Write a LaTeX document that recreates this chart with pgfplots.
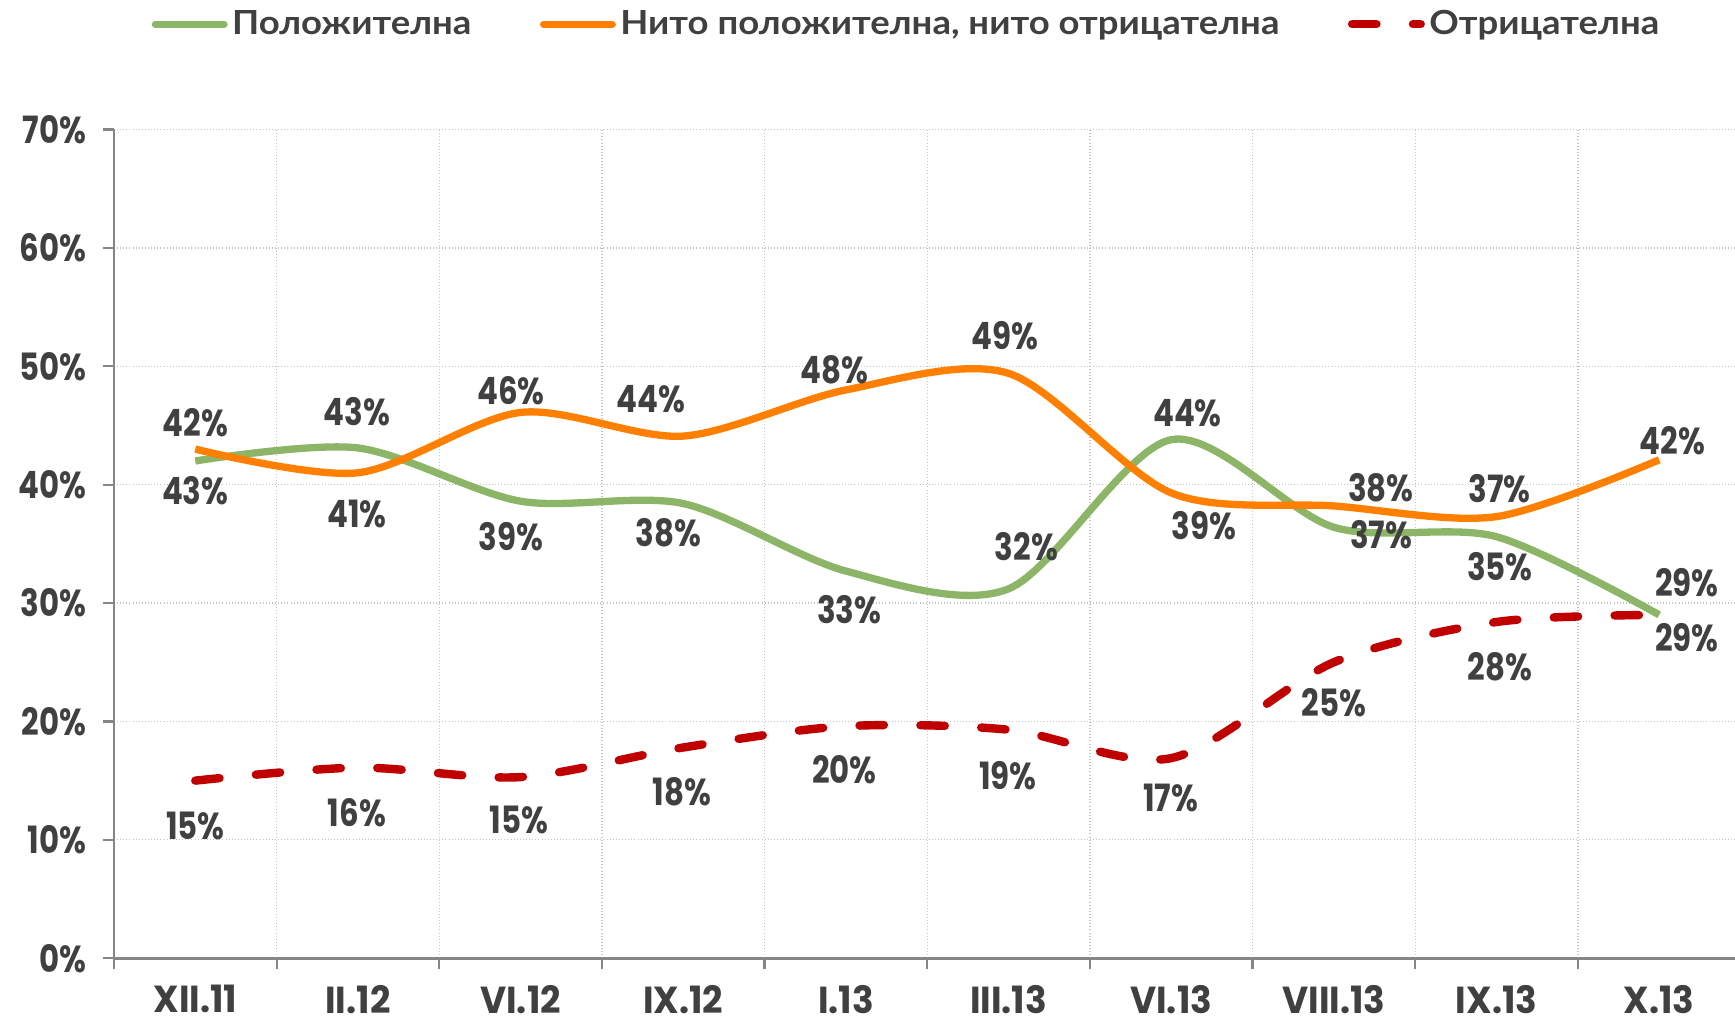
\documentclass[border=0pt]{standalone}
\usepackage{fontspec}
\usepackage{pgfplots}
\pgfplotsset{compat=1.18}
\setmainfont{Lato}[FakeStretch=1.1]
\newfontfamily\numfont{Poppins}[FakeStretch=0.82]
\newfontfamily\xfont{Poppins}[FakeStretch=0.95]
\definecolor{txt}{HTML}{404040}
\definecolor{cgreen}{HTML}{8CB567}
\definecolor{corange}{HTML}{FF8000}
\definecolor{cred}{HTML}{C00000}
\definecolor{axgray}{HTML}{868686}
\definecolor{gridgray}{HTML}{C4C4C4}
\tikzset{
  lbl/.style={font=\numfont\bfseries\fontsize{17}{20}\selectfont, text=txt, inner sep=0pt},
}

\begin{document}
\begin{tikzpicture}
\useasboundingbox (-51.5pt,-31.5pt) rectangle (732.5pt,433pt);
\begin{axis}[
  scale only axis, width=735pt, height=374.5pt,
  xmin=-0.5, xmax=9.5, ymin=0, ymax=70,
  clip=false,
  axis x line=bottom, axis y line=left,
  axis line style={-, axgray, line width=1.2pt},
  xtick={-0.5,0.5,...,9.5}, x tick label as interval,
  xticklabels={XII.11,II.12,VI.12,IX.12,I.13,III.13,VI.13,VIII.13,IX.13,X.13},
  ytick={0,10,...,70},
  yticklabels={0\%,10\%,20\%,30\%,40\%,50\%,60\%,70\%},
  tick align=outside, major tick length=5pt,
  tick style={axgray, line width=1pt},
  grid=major, grid style={densely dotted, gridgray, line width=0.6pt},
  yticklabel style={font=\numfont\bfseries\fontsize{17}{20}\selectfont, text=txt, xshift=-4pt},
  xticklabel style={font=\xfont\bfseries\fontsize{17}{20}\selectfont, text=txt, inner sep=1pt, yshift=-6pt},
  legend style={at={(axis description cs:0.488,1.127)}, anchor=center,
    draw=none, fill=none, legend columns=3,
    font=\bfseries\fontsize{15}{18}\selectfont, text=txt,
    /tikz/every even column/.append style={column sep=29pt}},
  legend cell align=left,
  legend image code/.code={\draw[#1, line cap=round] (0pt,0pt) -- (31pt,0pt);},
]
\addplot[cgreen, line width=3.3pt, smooth] coordinates {
  (0,42.0) (1,43.1) (2,38.6) (3,38.4) (4,32.7) (5,31.2) (6,43.8) (7,36.4) (8,35.6) (9,29.0)};
\addlegendentry{Положителна}
\addplot[corange, line width=3.3pt, smooth] coordinates {
  (0,43.0) (1,41.0) (2,46.1) (3,44.1) (4,48.0) (5,49.4) (6,39.3) (7,38.2) (8,37.3) (9,42.1)};
\addlegendentry{Нито положителна, нито отрицателна}
\addplot[cred, line width=3.8pt, dash pattern=on 11pt off 16.5pt, line cap=round, smooth] coordinates {
  (0,15.0) (1,16.1) (2,15.3) (3,17.8) (4,19.6) (5,19.3) (6,16.9) (7,25.0) (8,28.4) (9,29.0)};
\addlegendentry{Отрицателна}

% orange labels
\node[lbl] at (axis cs:0,45.2) {42\%};
\node[lbl] at (axis cs:0.994,46.2) {43\%};
\node[lbl] at (axis cs:1.94,47.9) {46\%};
\node[lbl] at (axis cs:2.80,47.2) {44\%};
\node[lbl] at (axis cs:3.93,49.7) {48\%};
\node[lbl] at (axis cs:4.98,52.6) {49\%};
\node[lbl] at (axis cs:6.20,36.5) {39\%};
\node[lbl] at (axis cs:7.29,39.7) {38\%};
\node[lbl] at (axis cs:8.02,39.7) {37\%};
\node[lbl] at (axis cs:9.08,43.7) {42\%};
% green labels
\node[lbl] at (axis cs:0,39.5) {43\%};
\node[lbl] at (axis cs:0.994,37.5) {41\%};
\node[lbl] at (axis cs:1.94,35.6) {39\%};
\node[lbl] at (axis cs:2.91,35.9) {38\%};
\node[lbl] at (axis cs:4.02,29.4) {33\%};
\node[lbl] at (axis cs:5.11,34.8) {32\%};
\node[lbl] at (axis cs:6.10,46.0) {44\%};
\node[lbl] at (axis cs:7.29,35.8) {37\%};
\node[lbl] at (axis cs:8.02,33.1) {35\%};
\node[lbl] at (axis cs:9.17,31.7) {29\%};
% red labels
\node[lbl] at (axis cs:0,11.2) {15\%};
\node[lbl] at (axis cs:0.994,12.3) {16\%};
\node[lbl] at (axis cs:1.99,11.7) {15\%};
\node[lbl] at (axis cs:2.99,14.1) {18\%};
\node[lbl] at (axis cs:3.99,15.9) {20\%};
\node[lbl] at (axis cs:4.997,15.4) {19\%};
\node[lbl] at (axis cs:5.997,13.5) {17\%};
\node[lbl] at (axis cs:7.0,21.6) {25\%};
\node[lbl] at (axis cs:8.02,24.6) {28\%};
\node[lbl] at (axis cs:9.17,27.1) {29\%};
\end{axis}
\end{tikzpicture}
\end{document}
